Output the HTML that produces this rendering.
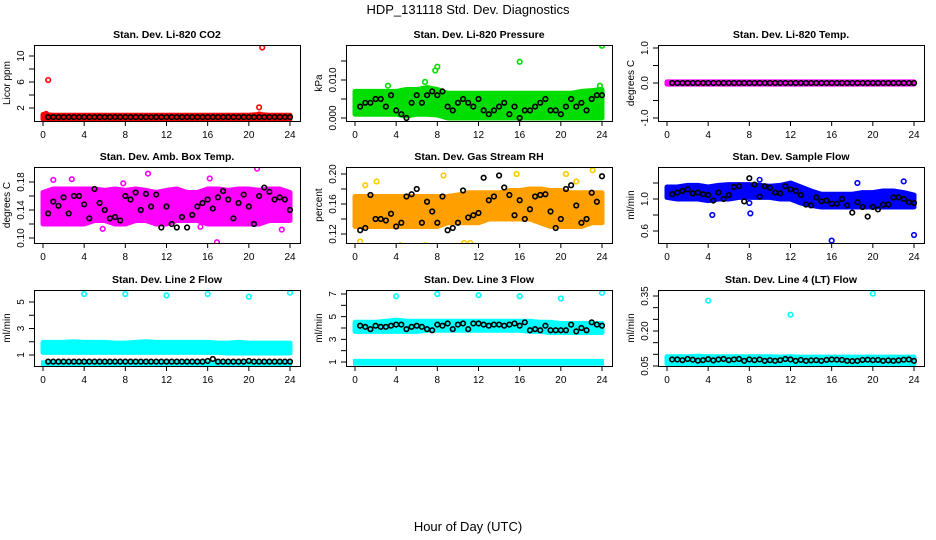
<!DOCTYPE html>
<html><head><meta charset="utf-8"><style>
html,body{margin:0;padding:0;background:#fff;}
svg{display:block;font-family:"Liberation Sans",sans-serif;}
</style></head><body>
<svg id="chart" width="936" height="540" viewBox="0 0 936 540" xmlns="http://www.w3.org/2000/svg">
<text x="468" y="14" text-anchor="middle" font-size="13">HDP_131118  Std. Dev. Diagnostics</text>
<text x="468" y="531" text-anchor="middle" font-size="13">Hour of Day (UTC)</text>
<g id="panels"></g>
</svg>
<script>
// ---- data ----
const hourTicks = [0,4,8,12,16,20,24];
const bandHours = [0,1,2,3,4,5,6,7,8,9,10,11,12,13,14,15,16,17,18,19,20,21,22,23,24];

const co2Lo = [0.3,0.3,0.3,0.3,0.3,0.3,0.3,0.3,0.3,0.3,0.3,0.3,0.3,0.3,0.3,0.3,0.3,0.3,0.3,0.3,0.3,0.3,0.3,0.3,0.3];
const co2Hi = [1.0,0.9,0.9,0.9,0.9,0.9,0.9,0.9,0.9,0.9,0.9,0.9,0.9,0.9,0.9,0.9,0.9,0.9,0.9,0.9,0.9,1.0,0.9,0.9,0.9];
const co2Black = [0.6,0.6,0.6,0.6,0.6,0.6,0.6,0.6,0.6,0.6,0.6,0.6,0.6,0.6,0.6,0.6,0.6,0.6,0.6,0.6,0.6,0.6,0.6,0.6,0.6,0.6,0.6,0.6,0.6,0.6,0.6,0.6,0.6,0.6,0.6,0.6,0.6,0.6,0.6,0.6,0.6,0.6,0.6,0.6,0.6,0.6,0.6,0.6];
const co2OutX = [0.5,21.3,21.0,0.3,21.0];
const co2OutY = [6.3,11.3,2.1,1.1,1.0];

const presLo = [0.001,0.001,0.001,0.001,0.001,0.0005,0.001,0.001,0.0008,0,0,0,0,0,0,0,0,0,0,0,0,0,0,0,0];
const presHi = [0.007,0.007,0.007,0.007,0.007,0.0075,0.0075,0.008,0.0075,0.0065,0.0065,0.0065,0.0065,0.0065,0.0065,0.0065,0.0065,0.0065,0.0065,0.0065,0.0065,0.0065,0.007,0.0072,0.0075];
const presBlack = [0.003,0.004,0.004,0.005,0.005,0.003,0.006,0.002,0.001,0.000,0.004,0.006,0.004,0.006,0.007,0.006,0.007,0.003,0.002,0.004,0.005,0.004,0.003,0.005,0.002,0.001,0.002,0.003,0.004,0.001,0.003,0.000,0.002,0.002,0.003,0.004,0.005,0.002,0.002,0.001,0.003,0.005,0.003,0.004,0.002,0.005,0.006,0.006];
const presOutX = [7.8,8.0,16.0,24.0,6.8,23.8,3.2];
const presOutY = [0.0125,0.0135,0.0148,0.019,0.0095,0.0085,0.0085];

const ltLo = [-0.03,-0.03,-0.03,-0.03,-0.03,-0.03,-0.03,-0.03,-0.03,-0.03,-0.03,-0.03,-0.03,-0.03,-0.03,-0.03,-0.03,-0.03,-0.03,-0.03,-0.03,-0.03,-0.03,-0.03,-0.03];
const ltHi = [0.03,0.03,0.03,0.03,0.03,0.03,0.03,0.03,0.03,0.03,0.03,0.03,0.03,0.03,0.03,0.03,0.03,0.03,0.03,0.03,0.03,0.03,0.03,0.03,0.03];
const ltBlack = [0,0,0,0,0,0,0,0,0,0,0,0,0,0,0,0,0,0,0,0,0,0,0,0,0,0,0,0,0,0,0,0,0,0,0,0,0,0,0,0,0,0,0,0,0,0,0,0];

const ambLo = [0.12,0.12,0.12,0.12,0.12,0.125,0.125,0.12,0.12,0.125,0.125,0.12,0.12,0.125,0.125,0.125,0.12,0.12,0.12,0.12,0.12,0.12,0.125,0.125,0.125];
const ambHi = [0.165,0.17,0.17,0.17,0.17,0.17,0.168,0.17,0.168,0.17,0.168,0.165,0.168,0.17,0.165,0.165,0.17,0.17,0.168,0.17,0.17,0.168,0.17,0.17,0.165];
const ambBlack = [0.135,0.152,0.146,0.158,0.135,0.16,0.16,0.148,0.128,0.17,0.15,0.14,0.128,0.13,0.125,0.16,0.155,0.165,0.14,0.163,0.145,0.162,0.115,0.145,0.12,0.115,0.13,0.115,0.133,0.145,0.15,0.155,0.142,0.158,0.167,0.155,0.128,0.15,0.162,0.145,0.12,0.16,0.172,0.166,0.155,0.158,0.155,0.14];
const ambOutX = [1.0,2.8,7.8,10.2,15.3,16.2,16.9,20.8,23.2,5.8];
const ambOutY = [0.183,0.184,0.178,0.192,0.116,0.185,0.094,0.199,0.112,0.113];

const rhLo = [0.13,0.13,0.13,0.13,0.13,0.13,0.13,0.13,0.13,0.135,0.135,0.135,0.135,0.14,0.14,0.14,0.14,0.14,0.135,0.13,0.13,0.13,0.13,0.135,0.135];
const rhHi = [0.17,0.17,0.17,0.17,0.17,0.17,0.17,0.17,0.17,0.17,0.172,0.175,0.175,0.175,0.175,0.178,0.178,0.18,0.18,0.178,0.178,0.175,0.175,0.175,0.175];
const rhBlack = [0.125,0.128,0.172,0.14,0.14,0.138,0.147,0.13,0.135,0.17,0.173,0.18,0.135,0.163,0.15,0.135,0.17,0.125,0.128,0.135,0.178,0.142,0.145,0.148,0.195,0.165,0.17,0.198,0.182,0.172,0.145,0.165,0.14,0.153,0.17,0.172,0.173,0.15,0.128,0.14,0.18,0.185,0.158,0.135,0.14,0.175,0.163,0.197];
const rhOutX = [0.5,2.1,4.4,6.8,8.6,10.6,11.2,15.7,20.5,21.5,23.1,1.0];
const rhOutY = [0.11,0.19,0.105,0.105,0.198,0.108,0.108,0.2,0.2,0.19,0.205,0.185];

const sfLo = [1.02,1.0,1.0,1.0,0.98,1.0,1.0,1.02,1.02,1.02,1.02,1.0,1.0,0.95,0.92,0.9,0.9,0.9,0.9,0.9,0.9,0.9,0.9,0.9,0.9];
const sfHi = [1.15,1.15,1.17,1.17,1.15,1.17,1.18,1.18,1.18,1.17,1.16,1.17,1.2,1.15,1.1,1.06,1.06,1.06,1.06,1.08,1.08,1.1,1.1,1.08,1.05];
const sfBlack = [1.06,1.08,1.1,1.12,1.07,1.08,1.06,1.05,0.98,1.08,1.0,1.05,1.15,1.16,0.97,1.26,1.18,1.03,1.16,1.14,1.08,1.07,1.16,1.12,1.1,1.05,0.93,0.92,1.02,0.97,0.98,0.94,0.94,1.0,0.92,0.83,0.96,0.9,0.78,0.9,0.87,0.93,0.93,1.02,1.02,1.0,0.96,0.95];
const sfOutX = [0.3,16.0,24.0,4.4,8.1,9.0,18.5,23.0,8.0];
const sfOutY = [1.48,0.48,0.55,0.8,0.82,1.24,1.2,1.22,0.95];

const l2Lo = [1.2,1.2,1.2,1.2,1.2,1.2,1.2,1.2,1.2,1.2,1.2,1.2,1.2,1.2,1.2,1.2,1.2,1.2,1.15,1.15,1.15,1.15,1.15,1.15,1.15];
const l2Hi = [1.95,1.95,1.95,2.0,1.95,1.95,1.95,1.9,1.9,1.95,2.0,1.95,1.95,1.95,1.95,1.95,1.95,1.9,1.9,1.95,1.9,1.9,1.9,1.9,1.9];
const l2Black = [0.5,0.5,0.5,0.5,0.5,0.5,0.5,0.5,0.5,0.5,0.5,0.5,0.5,0.5,0.5,0.5,0.5,0.5,0.5,0.5,0.5,0.5,0.5,0.5,0.5,0.5,0.5,0.5,0.5,0.5,0.5,0.55,0.7,0.5,0.5,0.5,0.5,0.5,0.5,0.55,0.5,0.5,0.5,0.5,0.5,0.5,0.5,0.5];
const l2OutX = [4,8,12,16,20,24];
const l2OutY = [5.6,5.6,5.5,5.6,5.4,5.7];

const l3Lo = [3.7,3.7,3.7,3.7,3.7,3.7,3.7,3.8,3.8,3.8,3.8,3.8,3.8,3.8,3.8,3.8,3.8,3.7,3.7,3.6,3.6,3.6,3.6,3.6,3.6];
const l3Hi = [4.5,4.5,4.5,4.6,4.7,4.6,4.6,4.6,4.6,4.6,4.6,4.6,4.6,4.6,4.6,4.6,4.6,4.6,4.5,4.5,4.4,4.4,4.4,4.4,4.4];
const l3Black = [4.2,4.1,3.9,4.2,4.1,4.1,4.2,4.3,4.3,3.9,4.1,4.2,4.1,3.9,3.8,4.3,4.2,4.4,3.9,4.3,4.4,3.9,4.4,4.4,4.3,4.2,4.3,4.3,4.2,4.3,4.4,4.2,4.5,3.8,3.9,3.8,4.2,3.8,3.8,3.8,3.8,4.3,3.7,4.0,3.8,4.5,4.3,4.2];
const l3LowLo = 0.85, l3LowHi = 1.1;
const l3OutX = [4,8,12,16,20,24];
const l3OutY = [6.8,7.0,6.9,6.8,6.6,7.1];

const l4Lo = [0.06,0.06,0.06,0.06,0.06,0.06,0.06,0.06,0.06,0.06,0.06,0.06,0.06,0.06,0.06,0.06,0.06,0.06,0.06,0.06,0.06,0.06,0.06,0.06,0.06];
const l4Hi = [0.09,0.09,0.09,0.092,0.09,0.09,0.09,0.09,0.09,0.09,0.09,0.088,0.09,0.088,0.088,0.088,0.088,0.088,0.088,0.088,0.088,0.088,0.088,0.088,0.088];
const l4Black = [0.078,0.078,0.075,0.08,0.077,0.073,0.075,0.079,0.074,0.078,0.08,0.075,0.078,0.08,0.072,0.078,0.075,0.078,0.072,0.075,0.072,0.075,0.08,0.078,0.072,0.076,0.072,0.074,0.075,0.072,0.076,0.078,0.077,0.076,0.072,0.071,0.072,0.076,0.077,0.075,0.076,0.072,0.074,0.072,0.074,0.077,0.078,0.072];
const l4OutX = [4,12,20];
const l4OutY = [0.33,0.27,0.36];

// ---- layout ----
const NS = "http://www.w3.org/2000/svg";
const root = document.getElementById('panels');
function mk(tag, attrs, parent){const e=document.createElementNS(NS,tag);for(const k in attrs)e.setAttribute(k,attrs[k]);(parent||root).appendChild(e);return e;}

const panels = [
 {name:'co2',title:'Stan. Dev. Li-820 CO2',ylab:'Licor ppm',col:0,row:0,color:'#ff0000',v1:2,p1:108,v2:10,p2:56,ticks:[2,4,6,8,10],labels:[2,6,10],fmt:v=>String(v),lo:co2Lo,hi:co2Hi,black:co2Black,ox:co2OutX,oy:co2OutY},
 {name:'pressure',title:'Stan. Dev. Li-820 Pressure',ylab:'kPa',col:1,row:0,color:'#00dd00',v1:0,p1:118,v2:0.01,p2:80,ticks:[0,0.005,0.01,0.015],labels:[0,0.01],fmt:v=>v.toFixed(3),lo:presLo,hi:presHi,black:presBlack,ox:presOutX,oy:presOutY},
 {name:'li-temp',title:'Stan. Dev. Li-820 Temp.',ylab:'degrees C',col:2,row:0,color:'#ff00ff',v1:-1,p1:118,v2:1,p2:48,ticks:[-1,-0.5,0,0.5,1],labels:[-1,0,1],fmt:v=>v.toFixed(1),lo:ltLo,hi:ltHi,black:ltBlack,ox:[],oy:[]},
 {name:'amb-temp',title:'Stan. Dev. Amb. Box Temp.',ylab:'degrees C',col:0,row:1,color:'#ff00ff',v1:0.10,p1:238,v2:0.18,p2:182,ticks:[0.10,0.12,0.14,0.16,0.18],labels:[0.10,0.14,0.18],fmt:v=>v.toFixed(2),lo:ambLo,hi:ambHi,black:ambBlack,ox:ambOutX,oy:ambOutY},
 {name:'gas-rh',title:'Stan. Dev. Gas Stream RH',ylab:'percent',col:1,row:1,color:'#ffa000',outColor:'#ffcc00',v1:0.12,p1:234,v2:0.20,p2:174,ticks:[0.12,0.14,0.16,0.18,0.20],labels:[0.12,0.16,0.20],fmt:v=>v.toFixed(2),lo:rhLo,hi:rhHi,black:rhBlack,ox:rhOutX,oy:rhOutY},
 {name:'sample-flow',title:'Stan. Dev. Sample Flow',ylab:'ml/min',col:2,row:1,color:'#0000ff',v1:0.6,p1:231,v2:1.0,p2:199,ticks:[0.6,0.8,1.0,1.2],labels:[0.6,1.0],fmt:v=>v.toFixed(1),lo:sfLo,hi:sfHi,black:sfBlack,ox:sfOutX,oy:sfOutY},
 {name:'line2-flow',title:'Stan. Dev. Line 2 Flow',ylab:'ml/min',col:0,row:2,color:'#00ffff',v1:1,p1:355,v2:5,p2:302,ticks:[1,2,3,4,5],labels:[1,3,5],fmt:v=>String(v),lo:l2Lo,hi:l2Hi,black:l2Black,ox:l2OutX,oy:l2OutY,low:[0.15,0.45]},
 {name:'line3-flow',title:'Stan. Dev. Line 3 Flow',ylab:'ml/min',col:1,row:2,color:'#00ffff',v1:1,p1:362,v2:7,p2:294,ticks:[1,2,3,4,5,6,7],labels:[1,3,5,7],fmt:v=>String(v),lo:l3Lo,hi:l3Hi,black:l3Black,ox:l3OutX,oy:l3OutY,low:[l3LowLo,l3LowHi]},
 {name:'line4-flow',title:'Stan. Dev. Line 4 (LT) Flow',ylab:'ml/min',col:2,row:2,color:'#00ffff',v1:0.05,p1:366,v2:0.35,p2:296,ticks:[0.05,0.10,0.15,0.20,0.25,0.30,0.35],labels:[0.05,0.20,0.35],fmt:v=>v.toFixed(2),lo:l4Lo,hi:l4Hi,black:l4Black,ox:l4OutX,oy:l4OutY}
];
const colLeft=[34,346,658], rowTop=[45,167,290], W=266, H=76;

panels.forEach(p=>{
  const L=colLeft[p.col], T=rowTop[p.row], B=T+H, R=L+W;
  const g=mk('g',{});
  
  
  const xs=h=>L+9+h*(247/24);
  const ys=v=>p.p1+(v-p.v1)*(p.p2-p.p1)/(p.v2-p.v1);
  const clip='clip-'+p.name;
  const cp=mk('clipPath',{id:clip},g); mk('rect',{x:L,y:T,width:W,height:H},cp);
  const plot=mk('g',{'clip-path':'url(#'+clip+')'},g);
  // band
  let pts=bandHours.map((h,i)=>xs(h).toFixed(1)+','+ys(p.hi[i]).toFixed(1));
  pts=pts.concat(bandHours.slice().reverse().map((h,j)=>{const i=bandHours.length-1-j;return xs(h).toFixed(1)+','+ys(p.lo[i]).toFixed(1);}));
  const band=mk('polygon',{points:pts.join(' '),fill:p.color,stroke:p.color,'stroke-width':5,'stroke-linejoin':'round'},plot);
  
  
  if(p.low){
    const lb=mk('rect',{x:xs(0),y:ys(p.low[1]),width:xs(24)-xs(0),height:Math.max(2,ys(p.low[0])-ys(p.low[1])),fill:p.color,stroke:p.color,'stroke-width':4},plot);
    
    
  }
  p.ox.forEach((h,i)=>{
    const c=mk('circle',{cx:xs(h),cy:ys(p.oy[i]),r:2.3,fill:'none',stroke:p.outColor||p.color,'stroke-width':1.6},plot);
    
    
  });
  p.black.forEach((v,i)=>{
    const h=0.5+i*0.5;
    const c=mk('circle',{cx:xs(h),cy:ys(v),r:2.3,fill:'none',stroke:'#000','stroke-width':1.6},plot);
    
    
  });
  // box
  const box=mk('rect',{x:L+0.5,y:T+0.5,width:W,height:H,fill:'none',stroke:'#000','stroke-width':1},g);
  
  
  // x axis
  hourTicks.forEach(h=>{
    mk('line',{x1:xs(h),x2:xs(h),y1:B,y2:B+5,stroke:'#000'},g);
    const t=mk('text',{x:xs(h),y:B+17,'text-anchor':'middle','font-size':10},g);
    t.textContent=h;
    
    
  });
  // y axis
  p.ticks.forEach(v=>{ mk('line',{x1:L-5,x2:L,y1:ys(v),y2:ys(v),stroke:'#000'},g); });
  p.labels.forEach(v=>{
    const y=ys(v);
    const t=mk('text',{x:L-10,y:y,'text-anchor':'middle','font-size':10,transform:'rotate(-90 '+(L-10)+' '+y+')'},g);
    t.textContent=p.fmt(v);
    
    
  });
  const yl=mk('text',{x:L-24,y:T+H/2,'text-anchor':'middle','font-size':10,transform:'rotate(-90 '+(L-24)+' '+(T+H/2)+')'},g);
  yl.textContent=p.ylab;
  
  
  const tt=mk('text',{x:L+W/2,y:T-7,'text-anchor':'middle','font-size':10.5,'font-weight':'bold'},g);
  tt.textContent=p.title;
  
  
});
</script>
</body></html>
